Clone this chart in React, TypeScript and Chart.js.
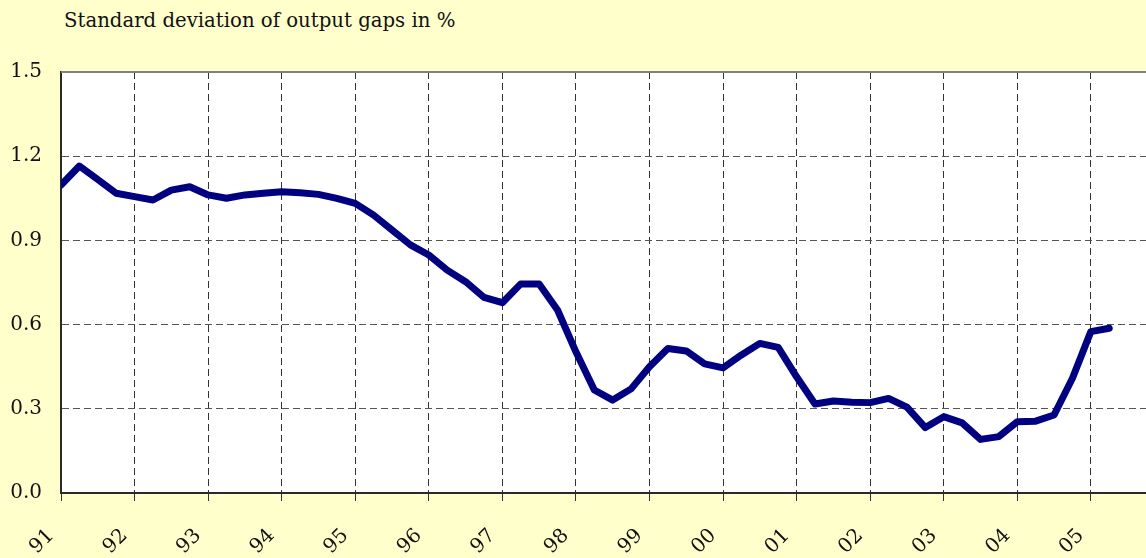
import { useEffect, useRef } from "react";
import { Chart, registerables } from "chart.js";

Chart.register(...registerables);

const TITLE = "Standard deviation of output gaps in %";

const yearLabels = ["91", "92", "93", "94", "95", "96", "97", "98", "99", "00", "01", "02", "03", "04", "05"];

const yTickValues = [0, 0.3, 0.6, 0.9, 1.2, 1.5];

// quarterly values, 1991Q1 .. 2005Q2
const gapStdDev = [
  1.097, 1.165, 1.117, 1.068,
  1.056, 1.044, 1.079, 1.091,
  1.062, 1.050, 1.062, 1.068,
  1.073, 1.070, 1.064, 1.050,
  1.032, 0.990, 0.937, 0.884,
  0.848, 0.794, 0.753, 0.697,
  0.678, 0.745, 0.745, 0.652,
  0.503, 0.367, 0.331, 0.371,
  0.450, 0.515, 0.506, 0.460,
  0.446, 0.492, 0.533, 0.519,
  0.414, 0.317, 0.328, 0.323,
  0.322, 0.337, 0.306, 0.233,
  0.272, 0.250, 0.191, 0.201,
  0.254, 0.256, 0.278, 0.409,
  0.575, 0.587,
];

const FONT_FAMILY = "'DejaVu Serif'";
const BG = "#FFFFCC";
const LINE = "#000080";

const framePlugin = {
  id: "plotFrame",
  beforeDraw(chart: any) {
    const { ctx, chartArea: a } = chart;
    ctx.save();
    ctx.fillStyle = "#FFFFFF";
    ctx.fillRect(a.left, a.top, a.right - a.left, a.bottom - a.top);
    ctx.restore();
  },
  afterDraw(chart: any) {
    const { ctx, chartArea: a } = chart;
    ctx.save();
    ctx.strokeStyle = "#808080";
    ctx.lineWidth = 2;
    ctx.beginPath();
    ctx.moveTo(a.left, a.top);
    ctx.lineTo(a.right, a.top);
    ctx.stroke();
    ctx.restore();
  },
};

export default function App() {
  const canvasRef = useRef<HTMLCanvasElement | null>(null);

  useEffect(() => {
    if (!canvasRef.current) return;
    const chart = new Chart(canvasRef.current, {
      type: "line",
      data: {
        datasets: [
          {
            data: gapStdDev.map((v, i) => ({ x: i, y: v })),
            borderColor: LINE,
            borderWidth: 7,
            borderJoinStyle: "round",
            borderCapStyle: "round",
            pointRadius: 0,
            tension: 0,
            fill: false,
            clip: 0,
          },
        ],
      },
      plugins: [framePlugin],
      options: {
        animation: false,
        responsive: false,
        devicePixelRatio: 1,
        events: [],
        layout: { padding: { top: 72, left: 0, right: 0, bottom: 0 }, autoPadding: false },
        plugins: {
          legend: { display: false },
          title: { display: false },
          tooltip: { enabled: false },
        },
        scales: {
          x: {
            type: "linear",
            min: 0,
            max: 59,
            afterBuildTicks: (scale: any) => {
              scale.ticks = yearLabels.map((_, i) => ({ value: i * 4 }));
            },
            afterFit: (scale: any) => {
              scale.height = 65;
            },
            ticks: {
              autoSkip: false,
              minRotation: 45,
              maxRotation: 45,
              padding: 23,
              labelOffset: -10,
              color: "#111111",
              font: { family: FONT_FAMILY, size: 20 },
              callback: (v: any) => yearLabels[Math.round(Number(v) / 4)] ?? "",
            },
            grid: {
              color: "#333333",
              lineWidth: 1,
              drawTicks: true,
              tickLength: 8,
              tickColor: "#333333",
              tickWidth: 1,
            },
            border: { display: true, color: "#2a2a2a", width: 2, dash: [7, 4] },
          },
          y: {
            type: "linear",
            min: 0,
            max: 1.5,
            afterBuildTicks: (scale: any) => {
              scale.ticks = yTickValues.map((v) => ({ value: v }));
            },
            afterFit: (scale: any) => {
              scale.width = 61;
            },
            ticks: {
              padding: 19,
              color: "#111111",
              font: { family: FONT_FAMILY, size: 20 },
              callback: (v: any) => Number(v).toFixed(1),
            },
            grid: {
              color: "#555555",
              lineWidth: 1,
              drawTicks: false,
            },
            border: { display: true, color: "#2a2a2a", width: 2, dash: [7, 4] },
          },
        },
      },
    });
    return () => chart.destroy();
  }, []);

  return (
    <div
      style={{
        position: "fixed",
        left: 0,
        top: 0,
        width: 1146,
        height: 558,
        background: BG,
        overflow: "hidden",
      }}
    >
      <div
        style={{
          position: "absolute",
          left: 64,
          top: 9,
          fontFamily: FONT_FAMILY,
          fontSize: 19.7,
          lineHeight: "24px",
          color: "#111111",
          whiteSpace: "nowrap",
        }}
      >
        {TITLE}
      </div>
      <canvas
        ref={canvasRef}
        width={1146}
        height={558}
        style={{ position: "absolute", left: 0, top: 0, width: 1146, height: 558 }}
      />
    </div>
  );
}
